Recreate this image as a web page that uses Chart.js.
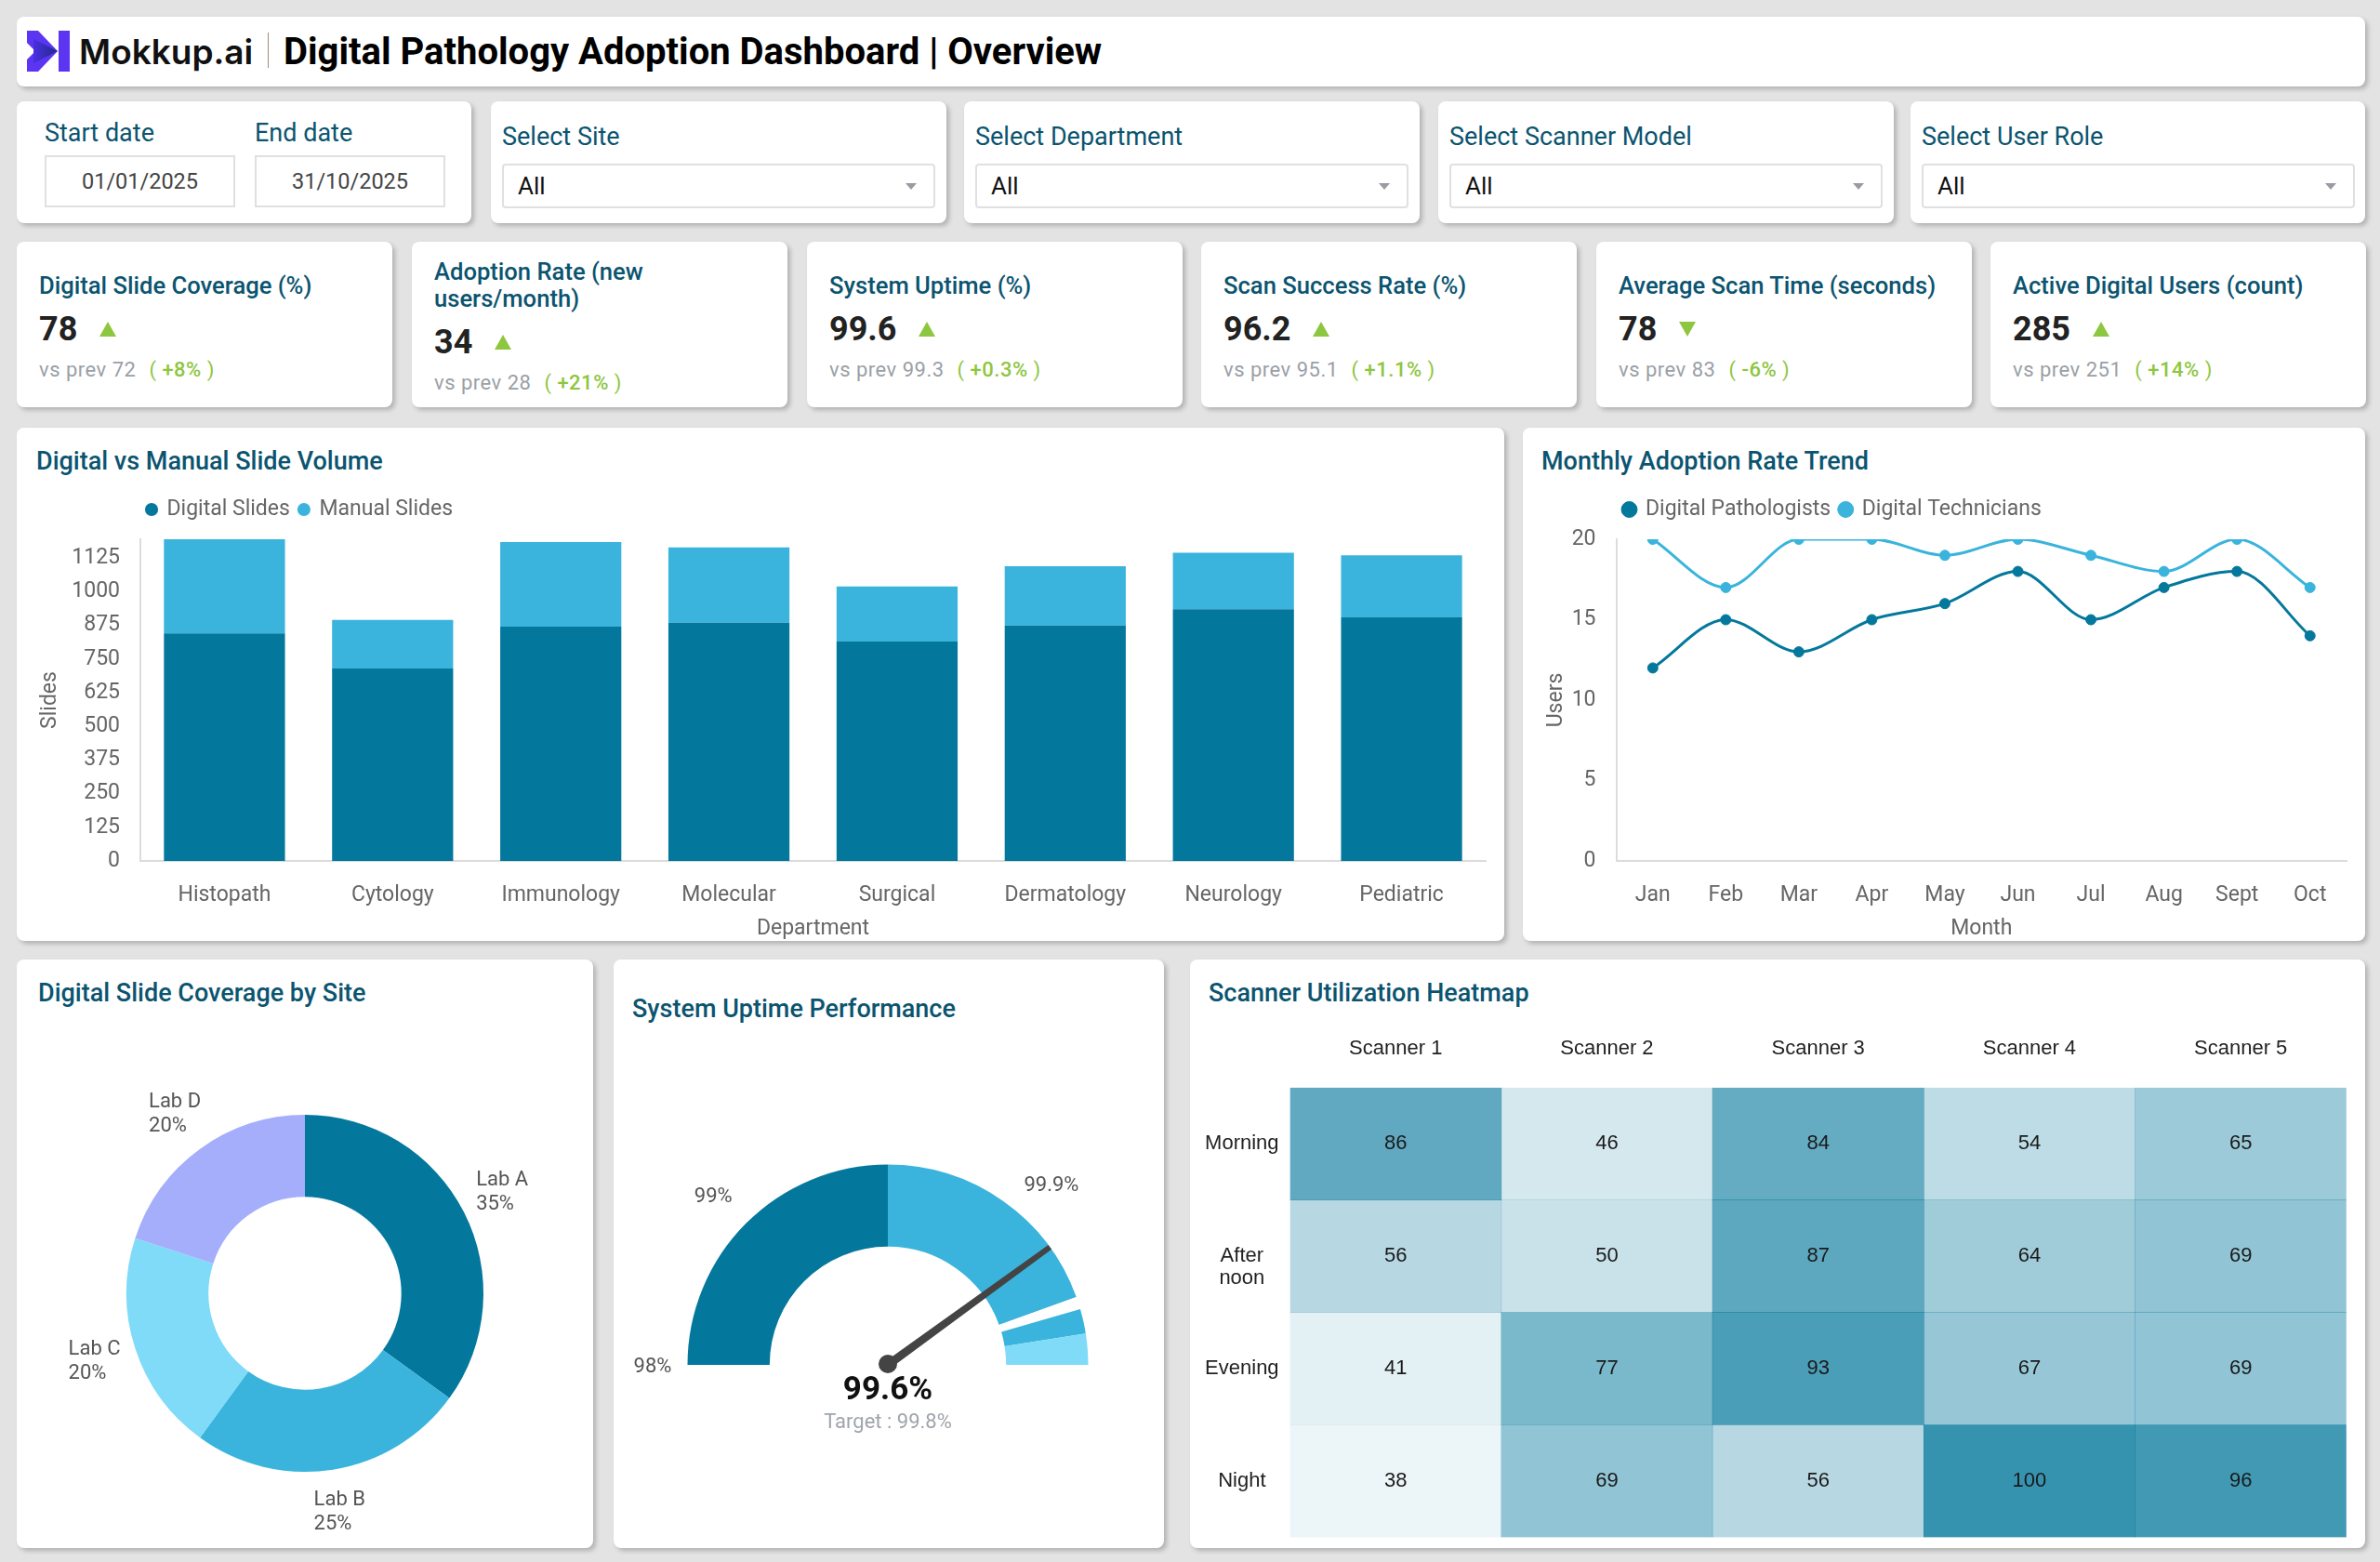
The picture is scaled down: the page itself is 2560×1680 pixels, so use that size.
<!DOCTYPE html>
<html lang="en">
<head>
<meta charset="utf-8">
<title>Digital Pathology Adoption Dashboard | Overview</title>
<script src="https://cdn.jsdelivr.net/npm/chart.js@4/dist/chart.umd.min.js"></script>
<style>
  * { box-sizing: border-box; }
  body { margin: 0; width: 2560px; height: 1680px; background: #e3e3e3; font-family: Roboto, sans-serif; position: relative; overflow: hidden; }
  .card { position: absolute; background: #fff; border-radius: 8px; box-shadow: 3px 3px 5px rgba(0,0,0,0.22); }
  .logo { position: absolute; left: 11px; top: 15px; }
  .brand { position: absolute; left: 67px; top: 0; line-height: 75px; font-family: Inter, sans-serif; font-weight: 600; font-size: 37px; color: #111; }
  .sep { position: absolute; left: 270px; top: 17px; width: 1px; height: 38px; background: #9c8a7e; }
  .htitle { position: absolute; left: 287px; top: 0; line-height: 75px; font-weight: 700; font-size: 40px; color: #000; }
  .flabel { position: absolute; font-size: 27px; line-height: 30px; color: #0b5470; }
  .datebox { position: absolute; top: 58px; width: 205px; height: 56px; border: 2px solid #e0e0e0; font-size: 23.5px; color: #444; display: flex; align-items: center; justify-content: center; }
  .select { position: absolute; left: 12px; top: 67px; width: 466px; height: 48px; border: 2px solid #e0e0e0; border-radius: 4px; font-size: 26px; color: #111; padding-left: 15px; display: flex; align-items: center; }
  .select::after { content: ''; position: absolute; right: 18px; top: 19px; border-left: 6px solid transparent; border-right: 6px solid transparent; border-top: 7px solid #9a9ca3; }
  .kpi { top: 260px; width: 404px; height: 178px; display: flex; flex-direction: column; justify-content: center; padding: 5px 14px 0 24px; }
  .kpi-title { font-size: 25.6px; font-weight: 500; line-height: 29px; color: #0b5470; }
  .kpi-value { margin-top: 11px; font-size: 36px; font-weight: 700; line-height: 42px; color: #222; display: flex; align-items: center; }
  .tri-up { margin-left: 24px; width: 0; height: 0; border-left: 9px solid transparent; border-right: 9px solid transparent; border-bottom: 16px solid #8dc63f; }
  .tri-down { margin-left: 24px; width: 0; height: 0; border-left: 9px solid transparent; border-right: 9px solid transparent; border-top: 16px solid #8dc63f; }
  .kpi-prev { margin-top: 10px; font-size: 22px; line-height: 26px; color: #9aa0a6; letter-spacing: 0.5px; }
  .chg { color: #8dc63f; margin-left: 8px; }
  .chg b { font-weight: 500; }
  .ctitle { position: absolute; top: 20px; font-size: 27px; font-weight: 500; line-height: 32px; color: #0b5470; white-space: nowrap; }
  .cbox { position: absolute; }
</style>
</head>
<body>

<div class="card" style="left:18px; top:18px; width:2526px; height:75px;">
  <svg class="logo" width="46" height="44" viewBox="0 0 46 44">
    <defs>
      <linearGradient id="lg" x1="0" y1="0" x2="1" y2="0">
        <stop offset="0" stop-color="#4b2fe0"/>
        <stop offset="1" stop-color="#1f2a8c"/>
      </linearGradient>
    </defs>
    <polygon points="0,0 12,0 33,22 12,44 0,44 0,31 9,22 0,13" fill="#5b35f2"/>
    <polygon points="7,9 33,22 7,35" fill="url(#lg)"/>
    <rect x="34" y="0" width="12" height="44" fill="#5b35f2"/>
  </svg>
  <div class="brand">Mokkup.ai</div>
  <div class="sep"></div>
  <div class="htitle">Digital Pathology Adoption Dashboard | Overview</div>
</div>

<div class="card" style="left:18px; top:109px; width:489px; height:131px;">
  <div class="flabel" style="left:30px; top:19px;">Start date</div>
  <div class="flabel" style="left:256px; top:19px;">End date</div>
  <div class="datebox" style="left:30px;">01/01/2025</div>
  <div class="datebox" style="left:256px;">31/10/2025</div>
</div>
<div class="card" style="left:528px; top:109px; width:490px; height:131px;">
  <div class="flabel" style="left:12px; top:23px;">Select Site</div>
  <div class="select">All</div>
</div>
<div class="card" style="left:1037px; top:109px; width:490px; height:131px;">
  <div class="flabel" style="left:12px; top:23px;">Select Department</div>
  <div class="select">All</div>
</div>
<div class="card" style="left:1547px; top:109px; width:490px; height:131px;">
  <div class="flabel" style="left:12px; top:23px;">Select Scanner Model</div>
  <div class="select">All</div>
</div>
<div class="card" style="left:2055px; top:109px; width:489px; height:131px;">
  <div class="flabel" style="left:12px; top:23px;">Select User Role</div>
  <div class="select">All</div>
</div>

<div class="card kpi" style="left:18px;">
  <div class="kpi-title">Digital Slide Coverage (%)</div>
  <div class="kpi-value">78<span class="tri-up"></span></div>
  <div class="kpi-prev">vs prev 72 <span class="chg">( <b>+8%</b> )</span></div>
</div>
<div class="card kpi" style="left:443px;">
  <div class="kpi-title">Adoption Rate (new users/month)</div>
  <div class="kpi-value">34<span class="tri-up"></span></div>
  <div class="kpi-prev">vs prev 28 <span class="chg">( <b>+21%</b> )</span></div>
</div>
<div class="card kpi" style="left:868px;">
  <div class="kpi-title">System Uptime (%)</div>
  <div class="kpi-value">99.6<span class="tri-up"></span></div>
  <div class="kpi-prev">vs prev 99.3 <span class="chg">( <b>+0.3%</b> )</span></div>
</div>
<div class="card kpi" style="left:1292px;">
  <div class="kpi-title">Scan Success Rate (%)</div>
  <div class="kpi-value">96.2<span class="tri-up"></span></div>
  <div class="kpi-prev">vs prev 95.1 <span class="chg">( <b>+1.1%</b> )</span></div>
</div>
<div class="card kpi" style="left:1717px;">
  <div class="kpi-title">Average Scan Time (seconds)</div>
  <div class="kpi-value">78<span class="tri-down"></span></div>
  <div class="kpi-prev">vs prev 83 <span class="chg">( <b>-6%</b> )</span></div>
</div>
<div class="card kpi" style="left:2141px;">
  <div class="kpi-title">Active Digital Users (count)</div>
  <div class="kpi-value">285<span class="tri-up"></span></div>
  <div class="kpi-prev">vs prev 251 <span class="chg">( <b>+14%</b> )</span></div>
</div>

<div class="card" style="left:18px; top:460px; width:1600px; height:552px;">
  <div class="ctitle" style="left:21px;">Digital vs Manual Slide Volume</div>
</div>
<div class="cbox" style="left:30px; top:520px; width:1578px; height:497px;"><canvas id="barChart"></canvas></div>

<div class="card" style="left:1638px; top:460px; width:906px; height:552px;">
  <div class="ctitle" style="left:20px;">Monthly Adoption Rate Trend</div>
</div>
<div class="cbox" style="left:1652px; top:520px; width:882px; height:497px;"><canvas id="lineChart"></canvas></div>

<div class="card" style="left:18px; top:1032px; width:620px; height:633px;">
  <div class="ctitle" style="left:23px;">Digital Slide Coverage by Site</div>
</div>
<div class="cbox" style="left:18px; top:1131px; width:620px; height:520px;"><canvas id="donutChart"></canvas></div>

<div class="card" style="left:660px; top:1032px; width:592px; height:633px;">
  <div class="ctitle" style="left:20px; top:37px;">System Uptime Performance</div>
</div>
<div class="cbox" style="left:660px; top:1120px; width:592px; height:480px;"><canvas id="gaugeChart"></canvas></div>

<div class="card" style="left:1280px; top:1032px; width:1264px; height:633px;">
  <div class="ctitle" style="left:20px;">Scanner Utilization Heatmap</div>
</div>
<div class="cbox" style="left:1290px; top:1095px; width:1244px; height:571px;"><canvas id="heatChart"></canvas></div>

<script>
// Data
const departments = ['Histopath', 'Cytology', 'Immunology', 'Molecular', 'Surgical', 'Dermatology', 'Neurology', 'Pediatric'];
const digitalSlides = [845, 715, 870, 885, 815, 875, 935, 905];
const manualSlides = [350, 180, 315, 280, 205, 220, 210, 230];

const months = ['Jan', 'Feb', 'Mar', 'Apr', 'May', 'Jun', 'Jul', 'Aug', 'Sept', 'Oct'];
const digitalPathologists = [12, 15, 13, 15, 16, 18, 15, 17, 18, 14];
const digitalTechnicians = [20, 17, 20, 20, 19, 20, 19, 18, 20, 17];

const sites = ['Lab A', 'Lab B', 'Lab C', 'Lab D'];
const siteCoverage = [35, 25, 20, 20];

const gaugeStops = [98, 99, 99.9, 100];
const gaugeTickLabels = ['98%', '99%', '99.9%'];
const uptimeValue = 99.6;
const uptimeTarget = 99.8;

const scanners = ['Scanner 1', 'Scanner 2', 'Scanner 3', 'Scanner 4', 'Scanner 5'];
const shifts = ['Morning', ['After', 'noon'], 'Evening', 'Night'];
const utilization = [
    [86, 46, 84, 54, 65],
    [56, 50, 87, 64, 69],
    [41, 77, 93, 67, 69],
    [38, 69, 56, 100, 96]
];

// Colours
const DARK = '#04789C';
const MID = '#3AB4DC';
const LIGHT = '#7FDBF8';
const LAVENDER = '#A5AEFB';
const AXIS_GREY = '#dcdcdc';

Chart.defaults.font.family = 'Roboto';
Chart.defaults.color = '#666';
Chart.defaults.animation = false;

// Push the legend a bit away from the plot and line it up with the y axis
const legendTweak = {
    id: 'legendTweak',
    beforeUpdate(chart) {
        const legend = chart.legend;
        if (legend && !legend._tweaked) {
            const fit = legend.fit;
            legend.fit = function () {
                fit.call(this);
                this.height += 10.5;
            };
            legend._tweaked = true;
        }
    },
    afterLayout(chart, args, opts) {
        chart.legend.left = chart.chartArea.left + (opts.shift || 0);
    }
};

function axisTitle(text, pad) {
    return { display: true, text: text, color: '#666', font: { size: 23 }, padding: pad };
}

// Bar chart
const slideTotals = digitalSlides.map((d, i) => d + manualSlides[i]);
new Chart(document.getElementById('barChart'), {
    type: 'bar',
    data: {
        labels: departments,
        datasets: [
            { label: 'Digital Slides', data: digitalSlides, backgroundColor: DARK },
            { label: 'Manual Slides', data: manualSlides, backgroundColor: MID }
        ]
    },
    options: {
        responsive: true,
        maintainAspectRatio: false,
        layout: { padding: { top: 6.5, right: 10, left: 0, bottom: 0 } },
        plugins: {
            legend: {
                position: 'top',
                align: 'start',
                labels: { usePointStyle: true, pointStyle: 'circle', boxWidth: 10, boxHeight: 10, padding: 10, color: '#666', font: { size: 23 } }
            },
            legendTweak: { shift: -3 },
            tooltip: { enabled: false }
        },
        scales: {
            x: {
                stacked: true,
                grid: { display: false, drawTicks: false },
                border: { color: AXIS_GREY, width: 2 },
                ticks: { padding: 23.5, color: '#666', font: { size: 23 } },
                title: axisTitle('Department', { top: 4, bottom: 4 }),
                afterFit: s => { s.height = 91; }
            },
            y: {
                stacked: true,
                min: 0,
                max: Math.max(...slideTotals),
                grid: { display: false, drawTicks: false },
                border: { color: AXIS_GREY, width: 2 },
                ticks: { stepSize: 125, includeBounds: false, padding: 22, color: '#666', font: { size: 23 }, callback: v => String(v) },
                title: axisTitle('Slides', { top: 10, bottom: 4 }),
                afterFit: s => { s.width = 121; }
            }
        }
    },
    plugins: [legendTweak]
});

// Line chart
new Chart(document.getElementById('lineChart'), {
    type: 'line',
    data: {
        labels: months,
        datasets: [
            { label: 'Digital Pathologists', data: digitalPathologists, borderColor: DARK, backgroundColor: DARK },
            { label: 'Digital Technicians', data: digitalTechnicians, borderColor: MID, backgroundColor: MID }
        ]
    },
    options: {
        responsive: true,
        maintainAspectRatio: false,
        layout: { padding: { top: 6.5, right: 10, left: 0, bottom: 0 } },
        elements: {
            line: { borderWidth: 3, cubicInterpolationMode: 'monotone' },
            point: { radius: 5.5, borderWidth: 1 }
        },
        plugins: {
            legend: {
                position: 'top',
                align: 'start',
                labels: { usePointStyle: true, pointStyle: 'circle', boxWidth: 12, boxHeight: 12, padding: 10, color: '#666', font: { size: 23 } }
            },
            legendTweak: { shift: -2 },
            tooltip: { enabled: false }
        },
        scales: {
            x: {
                offset: true,
                grid: { display: false, drawTicks: false },
                border: { color: AXIS_GREY, width: 2 },
                ticks: { padding: 23.5, color: '#666', font: { size: 23 } },
                title: axisTitle('Month', { top: 4, bottom: 4 }),
                afterFit: s => { s.height = 91; }
            },
            y: {
                min: 0,
                max: 20,
                grid: { display: false, drawTicks: false },
                border: { color: AXIS_GREY, width: 2 },
                ticks: { stepSize: 5, padding: 22, color: '#666', font: { size: 23 } },
                title: axisTitle('Users', { top: 8, bottom: 4 }),
                afterFit: s => { s.width = 86.5; }
            }
        }
    },
    plugins: [legendTweak]
});

// Donut chart with outside labels
const donutLabels = {
    id: 'donutLabels',
    afterDatasetsDraw(chart) {
        const ctx = chart.ctx;
        ctx.save();
        ctx.font = '22px Roboto';
        ctx.fillStyle = '#555';
        ctx.textBaseline = 'middle';
        ctx.textAlign = 'left';
        chart.getDatasetMeta(0).data.forEach((arc, i) => {
            const mid = (arc.startAngle + arc.endAngle) / 2;
            const r = arc.outerRadius * 1.24;
            const x = arc.x + Math.cos(mid) * r;
            const y = arc.y + Math.sin(mid) * r;
            const lines = [sites[i], siteCoverage[i] + '%'];
            const w = Math.max(...lines.map(t => ctx.measureText(t).width));
            ctx.fillText(lines[0], x - w / 2, y - 13);
            ctx.fillText(lines[1], x - w / 2, y + 13);
        });
        ctx.restore();
    }
};

new Chart(document.getElementById('donutChart'), {
    type: 'doughnut',
    data: {
        labels: sites,
        datasets: [{ data: siteCoverage, backgroundColor: [DARK, MID, LIGHT, LAVENDER], borderWidth: 0 }]
    },
    options: {
        responsive: true,
        maintainAspectRatio: false,
        cutout: '54%',
        layout: { padding: { top: 68, bottom: 68, left: 0, right: 0 } },
        plugins: { legend: { display: false }, tooltip: { enabled: false } }
    },
    plugins: [donutLabels]
});

// Gauge: half doughnut, target shown as a white notch
const gaugeColors = [DARK, MID, LIGHT];
const notch = 0.04;
const gaugeSlices = [];
const gaugeSliceColors = [];
for (let i = 0; i < gaugeStops.length - 1; i++) {
    const a = gaugeStops[i], b = gaugeStops[i + 1];
    if (uptimeTarget > a && uptimeTarget < b) {
        gaugeSlices.push(uptimeTarget - notch / 2 - a, notch, b - uptimeTarget - notch / 2);
        gaugeSliceColors.push(gaugeColors[i], '#ffffff', gaugeColors[i]);
    } else {
        gaugeSlices.push(b - a);
        gaugeSliceColors.push(gaugeColors[i]);
    }
}

const gaugeDecor = {
    id: 'gaugeDecor',
    afterDatasetsDraw(chart) {
        const arc = chart.getDatasetMeta(0).data[0];
        const cx = arc.x, cy = arc.y, R = arc.outerRadius;
        const lo = gaugeStops[0], hi = gaugeStops[gaugeStops.length - 1];
        const ang = Math.PI + (uptimeValue - lo) / (hi - lo) * Math.PI;
        const ctx = chart.ctx;
        ctx.save();

        // needle
        const ux = Math.cos(ang), uy = Math.sin(ang);
        const px = -uy, py = ux;
        ctx.fillStyle = '#444';
        ctx.beginPath();
        ctx.moveTo(cx + px * 4.5, cy + py * 4.5);
        ctx.lineTo(cx + ux * R + px * 3, cy + uy * R + py * 3);
        ctx.lineTo(cx + ux * R - px * 3, cy + uy * R - py * 3);
        ctx.lineTo(cx - px * 4.5, cy - py * 4.5);
        ctx.closePath();
        ctx.fill();
        ctx.beginPath();
        ctx.arc(cx, cy - 1, 10, 0, Math.PI * 2);
        ctx.fill();

        // range labels
        const labelSpots = [[180.5, 1.174], [136.2, 1.207], [47.6, 1.211]];
        ctx.font = '22px Roboto';
        ctx.fillStyle = '#555';
        ctx.textAlign = 'center';
        ctx.textBaseline = 'middle';
        gaugeTickLabels.forEach((t, i) => {
            const a = labelSpots[i][0] * Math.PI / 180;
            const r = R * labelSpots[i][1];
            ctx.fillText(t, cx + Math.cos(a) * r, cy - Math.sin(a) * r);
        });

        // value and target
        ctx.font = 'bold 35px Roboto';
        ctx.fillStyle = '#111';
        ctx.fillText(uptimeValue + '%', cx, cy + 28);
        ctx.font = '22px Roboto';
        ctx.fillStyle = '#a0a4ab';
        ctx.fillText('Target : ' + uptimeTarget + '%', cx, cy + 62);
        ctx.restore();
    }
};

new Chart(document.getElementById('gaugeChart'), {
    type: 'doughnut',
    data: {
        datasets: [{ data: gaugeSlices, backgroundColor: gaugeSliceColors, borderWidth: 0 }]
    },
    options: {
        responsive: true,
        maintainAspectRatio: false,
        rotation: -90,
        circumference: 180,
        cutout: '59%',
        layout: { padding: { top: 132.5, bottom: 132, left: 79.5, right: 81.5 } },
        plugins: { legend: { display: false }, tooltip: { enabled: false } }
    },
    plugins: [gaugeDecor]
});

// Heatmap built from stacked bars
const uMin = Math.min(...utilization.flat());
const uMax = Math.max(...utilization.flat());
function heatColor(v) {
    const a = 0.075 + (v - uMin) / (uMax - uMin) * 0.725;
    return 'rgba(4,120,156,' + a.toFixed(3) + ')';
}

const cellLabels = {
    id: 'cellLabels',
    afterDatasetsDraw(chart) {
        const ctx = chart.ctx;
        ctx.save();
        ctx.font = '22px "Liberation Sans", Arial, sans-serif';
        ctx.fillStyle = '#1a1a1a';
        ctx.textAlign = 'center';
        ctx.textBaseline = 'middle';
        chart.data.datasets.forEach((ds, r) => {
            chart.getDatasetMeta(r).data.forEach((bar, c) => {
                ctx.fillText(utilization[r][c], bar.x, (bar.y + bar.base) / 2);
            });
        });
        ctx.restore();
    }
};

const heatFont = { family: '"Liberation Sans", Arial, sans-serif', size: 22, lineHeight: 1.1 };

new Chart(document.getElementById('heatChart'), {
    type: 'bar',
    data: {
        labels: scanners,
        datasets: utilization.map((row, r) => ({
            label: Array.isArray(shifts[r]) ? shifts[r].join(' ') : shifts[r],
            data: row.map(() => 1),
            backgroundColor: row.map(heatColor),
            borderWidth: 0,
            barPercentage: 1,
            categoryPercentage: 1
        }))
    },
    options: {
        responsive: true,
        maintainAspectRatio: false,
        layout: { padding: { top: 0, right: 10.2, left: 0, bottom: 12.6 } },
        plugins: { legend: { display: false }, tooltip: { enabled: false } },
        scales: {
            x: {
                position: 'top',
                stacked: true,
                grid: { display: false, drawTicks: false },
                border: { display: false },
                ticks: { padding: 30, color: '#222', font: heatFont },
                afterFit: s => { s.height = 74.8; }
            },
            y: {
                stacked: true,
                reverse: true,
                min: 0,
                max: shifts.length,
                grid: { display: false, drawTicks: false },
                border: { display: false },
                afterBuildTicks: s => {
                    s.ticks = shifts.map((label, i) => ({ value: i + 0.5 + (Array.isArray(label) ? 0.1 : 0) }));
                },
                ticks: {
                    padding: 12,
                    crossAlign: 'center',
                    color: '#222',
                    font: heatFont,
                    callback: v => shifts[Math.floor(v)]
                },
                afterFit: s => {
                    s.width = 97.6;
                    s.paddingTop = 0;
                    s.paddingBottom = 0;
                }
            }
        }
    },
    plugins: [cellLabels]
});
</script>
</body>
</html>
